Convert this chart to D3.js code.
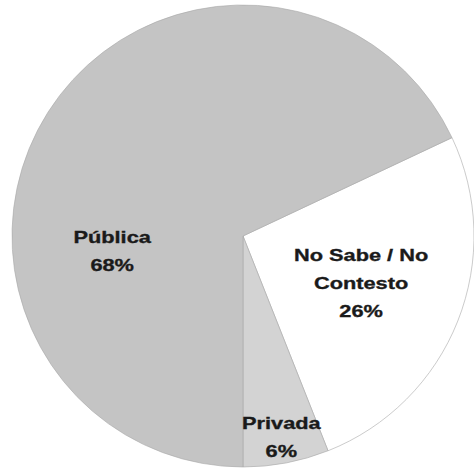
<!DOCTYPE html>
<html>
<head>
<meta charset="utf-8">
<script src="https://cdn.jsdelivr.net/npm/d3@7"></script>
<style>
  body { margin: 0; background: #fff; }
  svg { display: block; }
  .label { font-family: "Liberation Sans", Arial, sans-serif; font-weight: bold; font-size: 17px; fill: #1a1a1a; stroke: #1a1a1a; stroke-width: 0.35px; }
</style>
</head>
<body>
<div id="vis"></div>
<script>
// data
var categories = ['No Sabe / No Contesto', 'Privada', 'Pública'];
var values = [26, 6, 68];
var labelLines = [['No Sabe / No', 'Contesto', '26%'], ['Privada', '6%'], ['Pública', '68%']];

// layout
var width = 474;
var height = 470;
var cx = 243, cy = 236, radius = 231;
var startDeg = 64.8;
var colors = ['#ffffff', '#d3d3d3', '#c4c4c4'];
// label placement: fraction of radius, and angle (deg, null = slice middle)
var labelR = [0.55, 0.885, 0.57];
var labelAngle = [null, null, 263.5];
var lineGap = 28;
var stretch = 1.28; // labels are drawn wide in the source

var svg = d3.select('#vis').append('svg')
  .attr('width', width)
  .attr('height', height);

var g = svg.append('g')
  .attr('transform', 'translate(' + cx + ',' + cy + ')');

var pie = d3.pie()
  .sort(null)
  .startAngle(startDeg * Math.PI / 180)
  .endAngle(startDeg * Math.PI / 180 + 2 * Math.PI);

var arcs = pie(values);

var arc = d3.arc().innerRadius(0).outerRadius(radius);

g.selectAll('path.slice')
  .data(arcs)
  .enter().append('path')
  .attr('class', 'slice')
  .attr('d', arc)
  .attr('fill', function (d, i) { return colors[i]; })
  .attr('stroke', '#a8a8a8')
  .attr('stroke-width', 0.6);

var labels = g.selectAll('g.label')
  .data(arcs)
  .enter().append('g')
  .attr('class', 'label')
  .attr('transform', function (d, i) {
    var a = labelAngle[i] != null ? labelAngle[i] * Math.PI / 180 : (d.startAngle + d.endAngle) / 2;
    var r = labelR[i] * radius;
    var x = Math.sin(a) * r;
    var y = -Math.cos(a) * r;
    return 'translate(' + x + ',' + y + ') scale(' + stretch + ',1)';
  });

labels.each(function (d, i) {
  var lines = labelLines[i];
  var top = -(lines.length - 1) * lineGap / 2;
  d3.select(this).selectAll('text')
    .data(lines)
    .enter().append('text')
    .attr('text-anchor', 'middle')
    .attr('dy', '0.35em')
    .attr('y', function (t, j) { return top + j * lineGap; })
    .text(function (t) { return t; });
});
</script>
</body>
</html>
